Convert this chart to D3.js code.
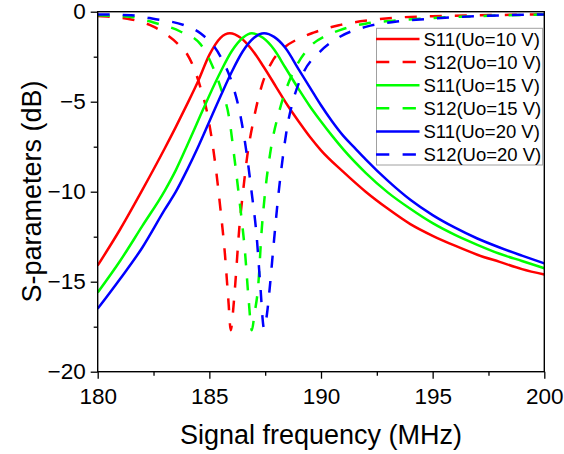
<!DOCTYPE html>
<html>
<head>
<meta charset="utf-8">
<script src="https://cdn.jsdelivr.net/npm/d3@7"></script>
<style>
  body { margin: 0; background: #fff; }
  svg { font-family: "Liberation Sans", Arial, sans-serif; }
</style>
</head>
<body>
<script>
// values: [frequency MHz, dB]
var s11_10 = [[180,-14.1],[181,-12.1],[182,-9.9],[183,-7.6],[183.5,-6.4],[184,-5.15],[184.5,-3.85],[185,-2.4],[185.5,-1.45],[185.92,-1.2],[186.4,-1.45],[186.9,-2.1],[187.4,-3.0],[188,-4.2],[188.5,-5.2],[189,-6.1],[189.5,-6.95],[190,-7.7],[191,-8.9],[192,-10.0],[193,-10.95],[194,-11.8],[195,-12.45],[196,-13.0],[197,-13.5],[198,-13.9],[199,-14.3],[200,-14.6]];
var s12_10 = [[180,-0.24],[181,-0.33],[181.5,-0.43],[182.5,-0.83],[183,-1.2],[183.6,-1.8],[184,-2.35],[184.3,-3.1],[184.6,-4.2],[184.9,-5.6],[185.1,-7.0],[185.3,-8.8],[185.5,-11.0],[185.7,-13.5],[185.85,-16.0],[185.96,-17.7],[186.05,-16.8],[186.15,-15.3],[186.35,-11.9],[186.5,-10.1],[186.7,-8.0],[187.0,-5.9],[187.4,-3.9],[187.8,-2.8],[188.4,-1.95],[189,-1.5],[189.7,-1.15],[190.8,-0.75],[192.2,-0.47],[193.5,-0.32],[195,-0.25],[197,-0.2],[200,-0.15]];
var s11_15 = [[180,-15.6],[181,-13.85],[182,-11.9],[183,-9.95],[183.5,-8.8],[184,-7.45],[184.5,-6.05],[185,-4.65],[185.5,-3.35],[186,-2.2],[186.5,-1.45],[186.9,-1.2],[187.4,-1.45],[187.9,-2.1],[188.4,-3.1],[189,-4.3],[189.5,-5.25],[190,-6.1],[190.5,-6.9],[191,-7.65],[192,-8.95],[193,-10.05],[194,-10.95],[195,-11.75],[196,-12.4],[197,-12.95],[198,-13.45],[199,-13.85],[200,-14.25]];
var s12_15 = [[180,-0.2],[181.5,-0.29],[182.5,-0.6],[183.7,-1.1],[184.6,-1.8],[185.2,-3.2],[185.5,-4.2],[185.9,-6.0],[186.1,-7.9],[186.35,-10.5],[186.6,-13.4],[186.76,-16.0],[186.9,-17.7],[187.02,-16.8],[187.19,-15.2],[187.34,-12.2],[187.5,-10.0],[187.72,-7.9],[188.16,-5.4],[188.5,-4.1],[188.84,-3.15],[189.5,-1.95],[190.2,-1.35],[190.85,-1.02],[192.04,-0.65],[193.24,-0.5],[195,-0.35],[197,-0.25],[200,-0.15]];
var s11_20 = [[180,-16.5],[181,-14.85],[182,-13.1],[183,-11.0],[183.5,-10.0],[184,-8.8],[184.5,-7.5],[185,-6.1],[185.5,-4.7],[186,-3.35],[186.5,-2.2],[187,-1.45],[187.45,-1.2],[187.9,-1.4],[188.4,-2.0],[189,-3.2],[189.5,-4.2],[190,-5.2],[190.5,-6.1],[191,-6.9],[191.5,-7.55],[192,-8.2],[193,-9.4],[194,-10.45],[195,-11.3],[196,-12.0],[197,-12.6],[198,-13.1],[199,-13.55],[200,-13.98]];
var s12_20 = [[180,-0.15],[181.5,-0.2],[182.6,-0.42],[183.85,-0.74],[184.6,-1.2],[185.5,-2.5],[186.07,-4.17],[186.37,-5.64],[186.67,-7.87],[186.9,-10.1],[187.12,-12.5],[187.27,-15.0],[187.45,-17.6],[187.58,-16.8],[187.7,-15.4],[187.86,-13.2],[188.09,-10.2],[188.31,-7.9],[188.5,-6.3],[188.76,-4.9],[189.2,-3.42],[189.96,-2.22],[190.85,-1.39],[192.04,-0.83],[193.4,-0.55],[195,-0.38],[197,-0.25],[200,-0.15]];

var seriesNames = ["S11(Uo=10 V)", "S12(Uo=10 V)", "S11(Uo=15 V)", "S12(Uo=15 V)", "S11(Uo=20 V)", "S12(Uo=20 V)"];
var seriesColors = ["#ff0000", "#ff0000", "#00ff00", "#00ff00", "#0000ff", "#0000ff"];
var seriesDashed = [false, true, false, true, false, true];
var seriesData = [s11_10, s12_10, s11_15, s12_15, s11_20, s12_20];

var xMajor = [180, 185, 190, 195, 200];
var xMinor = [182.5, 187.5, 192.5, 197.5];
var yMajor = [-20, -15, -10, -5, 0];
var yMinor = [-17.5, -12.5, -7.5, -2.5];

var w = 564, h = 454;
var x0 = 97.7, x1 = 544.3, y0 = 11.7, y1 = 371.7;

var svg = d3.select("body").append("svg")
	.attr("width", w)
	.attr("height", h);

var x = d3.scaleLinear().domain([180, 200]).range([x0, x1]);
var y = d3.scaleLinear().domain([-20, 0]).range([y1, y0]);

svg.append("clipPath").attr("id", "plotclip")
	.append("rect")
	.attr("x", x0).attr("y", y0)
	.attr("width", x1 - x0).attr("height", y1 - y0);

var line = d3.line()
	.x(function(d) { return x(d[0]); })
	.y(function(d) { return y(d[1]); })
	.curve(d3.curveMonotoneX);

var curves = svg.append("g").attr("clip-path", "url(#plotclip)");
seriesData.forEach(function(data, i) {
	curves.append("path")
		.attr("d", line(data))
		.attr("fill", "none")
		.attr("stroke", seriesColors[i])
		.attr("stroke-width", 2.5)
		.attr("stroke-dasharray", seriesDashed[i] ? "12,13" : null);
});

// axes
var fontSize = "22.5px";
svg.append("g")
	.attr("transform", "translate(0," + y1 + ")")
	.call(d3.axisBottom(x).tickValues(xMajor).tickSize(7).tickPadding(9).tickFormat(d3.format("d")));
svg.append("g")
	.attr("transform", "translate(0," + y1 + ")")
	.call(d3.axisBottom(x).tickValues(xMinor).tickSize(4).tickFormat(""));

svg.append("g")
	.attr("transform", "translate(" + x0 + ",0)")
	.call(d3.axisLeft(y).tickValues(yMajor).tickSize(7).tickPadding(5));
svg.append("g")
	.attr("transform", "translate(" + x0 + ",0)")
	.call(d3.axisLeft(y).tickValues(yMinor).tickSize(4).tickFormat(""));

svg.selectAll(".domain").remove();
svg.selectAll(".tick line").attr("stroke", "#000").attr("stroke-width", 1.3);
svg.selectAll(".tick text")
	.attr("font-family", "'Liberation Sans', Arial, sans-serif")
	.attr("font-size", fontSize)
	.attr("fill", "#000");

// frame
svg.append("rect")
	.attr("x", x0).attr("y", y0)
	.attr("width", x1 - x0).attr("height", y1 - y0)
	.attr("fill", "none")
	.attr("stroke", "#000")
	.attr("stroke-width", 1.4);

// axis titles
svg.append("text")
	.attr("x", (x0 + x1) / 2)
	.attr("y", 444)
	.attr("text-anchor", "middle")
	.attr("font-size", "27px")
	.text("Signal frequency (MHz)");

svg.append("text")
	.attr("transform", "translate(41,191.5) rotate(-90)")
	.attr("text-anchor", "middle")
	.attr("font-size", "27px")
	.text("S-parameters (dB)");

// legend
var lg = svg.append("g");
lg.append("rect")
	.attr("x", 376.5).attr("y", 28.3)
	.attr("width", 166.2).attr("height", 136.7)
	.attr("fill", "#fff")
	.attr("stroke", "#a0a0a0")
	.attr("stroke-width", 1);

seriesNames.forEach(function(name, i) {
	var ly = 39 + i * 23.1;
	lg.append("line")
		.attr("x1", 376).attr("x2", 419.5)
		.attr("y1", ly).attr("y2", ly)
		.attr("stroke", seriesColors[i])
		.attr("stroke-width", 2.5)
		.attr("stroke-dasharray", seriesDashed[i] ? "13.3,13.3" : null);
	lg.append("text")
		.attr("x", 423.5)
		.attr("y", ly + 6.6)
		.attr("font-size", "18.5px")
		.text(name);
});
</script>
</body>
</html>
